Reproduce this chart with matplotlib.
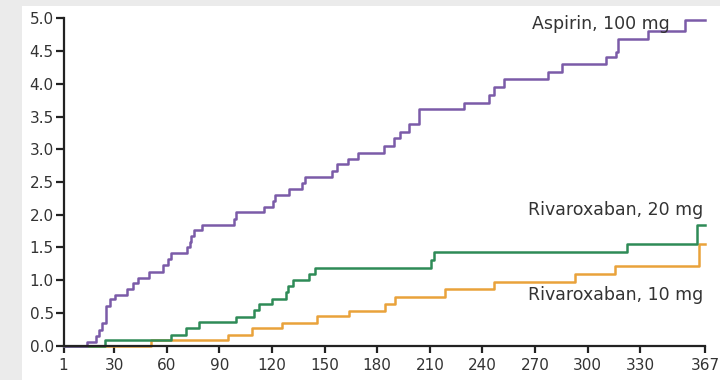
import numpy as np
import matplotlib.pyplot as plt

# Cumulative event rate (%) step curves
aspirin_days = [1, 14.6, 19.8, 21.3, 23.2, 25.5, 27.6, 30.4, 37.5, 40.7, 43.6, 49.9,
                57.9, 60.9, 62.6, 71.4, 73.1, 73.7, 75.6, 80.3, 98.0, 99.4, 115.6,
                120.7, 121.9, 129.5, 137.1, 138.8, 154.0, 157.1, 163.2, 168.9, 183.6,
                189.5, 193.1, 198.0, 203.7, 229.3, 243.7, 246.4, 252.3, 277.5, 285.5,
                310.8, 316.5, 317.5, 334.3, 355.6, 367]
aspirin_vals = [0, 0.06, 0.15, 0.24, 0.34, 0.61, 0.71, 0.77, 0.87, 0.96, 1.04, 1.12,
                1.23, 1.32, 1.41, 1.50, 1.59, 1.68, 1.77, 1.85, 1.94, 2.04, 2.12,
                2.21, 2.30, 2.39, 2.49, 2.58, 2.67, 2.77, 2.85, 2.95, 3.05,
                3.17, 3.27, 3.38, 3.61, 3.71, 3.83, 3.95, 4.07, 4.18, 4.30,
                4.41, 4.48, 4.68, 4.81, 4.97, 4.97]

riva20_days = [1, 24.7, 62.6, 70.8, 78.4, 99.7, 109.9, 112.7, 120.0, 128.0, 128.9,
               132.2, 141.3, 144.5, 210.4, 212.1, 322.3, 362.3, 367]
riva20_vals = [0, 0.08, 0.17, 0.27, 0.36, 0.44, 0.55, 0.63, 0.72, 0.82, 0.91,
               1.01, 1.09, 1.18, 1.31, 1.43, 1.55, 1.85, 1.85]

riva10_days = [1, 50.8, 94.8, 108.3, 125.7, 145.7, 163.7, 184.7, 189.9, 218.4,
               246.6, 292.7, 315.6, 363.6, 367]
riva10_vals = [0, 0.08, 0.17, 0.27, 0.35, 0.45, 0.53, 0.64, 0.74, 0.87,
               0.98, 1.09, 1.22, 1.56, 1.56]

x_ticks = [1, 30, 60, 90, 120, 150, 180, 210, 240, 270, 300, 330, 367]
y_ticks = np.arange(0, 5.01, 0.5)

fig = plt.figure(figsize=(7.2, 3.8), dpi=100, facecolor='#ebebeb')
# white panel behind the chart
bg = fig.add_axes([22 / 720, 0, 1 - 22 / 720, (380 - 6) / 380], zorder=-1)
bg.set_facecolor('white')
bg.set_xticks([])
bg.set_yticks([])
for s in bg.spines.values():
    s.set_visible(False)

ax = fig.add_axes([63.5 / 720, 34.3 / 380, (705 - 63.5) / 720, (345.7 - 18.3) / 380], zorder=1)
ax.set_facecolor('none')

ax.step(riva10_days, riva10_vals, where='post', color='#e9a23b', lw=1.8, clip_on=False)
ax.step(riva20_days, riva20_vals, where='post', color='#2e8b57', lw=1.8, clip_on=False)
ax.step(aspirin_days, aspirin_vals, where='post', color='#7b5ba8', lw=1.8, clip_on=False)

ax.set_xlim(1, 367)
ax.set_ylim(0, 5)
ax.set_xticks(x_ticks)
ax.set_yticks(y_ticks)
ax.set_yticklabels([f'{v:.1f}' for v in y_ticks])

for s in ['top', 'right']:
    ax.spines[s].set_visible(False)
for s in ['left', 'bottom']:
    ax.spines[s].set_linewidth(1.6)
    ax.spines[s].set_color('#222222')
    ax.spines[s].set_zorder(5)
ax.tick_params(axis='y', length=6, width=1.6, pad=1, labelsize=11, colors='#222222', labelcolor='#333333')
ax.tick_params(axis='x', length=5, width=1.6, pad=4, labelsize=11, colors='#222222', labelcolor='#333333')

tc = '#333333'
ax.text(347, 4.92, 'Aspirin, 100 mg', ha='right', va='center', fontsize=12.5, color=tc)
ax.text(366, 2.08, 'Rivaroxaban, 20 mg', ha='right', va='center', fontsize=12.5, color=tc)
ax.text(366, 0.77, 'Rivaroxaban, 10 mg', ha='right', va='center', fontsize=12.5, color=tc)

fig.savefig('out.png', dpi=100, facecolor=fig.get_facecolor())
